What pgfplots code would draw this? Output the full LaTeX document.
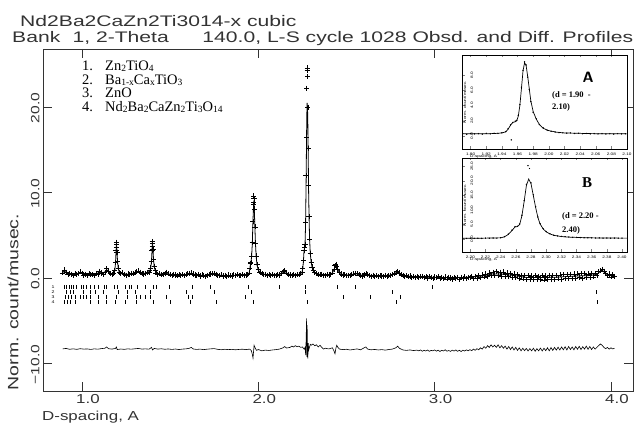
\documentclass[border=0pt]{standalone}
\usepackage{fontspec}
\setmainfont{Liberation Serif}
\newfontfamily\gsas[FakeStretch=1.3]{Liberation Sans}
\newfontfamily\gsasw[FakeStretch=1.38]{Liberation Sans}
\usepackage{pgfplots}
\pgfplotsset{compat=1.18}
\definecolor{ink}{gray}{0.2}
\newcommand\sub[1]{\raisebox{-0.08em}{\fontsize{9.5}{9.5}\selectfont #1}}

\begin{document}
\begin{tikzpicture}
\useasboundingbox (0pt,0pt) rectangle (634pt,428pt);

% header lines
\node[anchor=base west, inner sep=0, text=ink, font=\gsasw\fontsize{15.3}{15}\selectfont] at (20pt,401pt) {Nd2Ba2CaZn2Ti3014-x cubic};
\node[anchor=base west, inner sep=0, text=ink, font=\gsasw\fontsize{15.3}{15}\selectfont] at (12pt,385pt)
  {Bank\hspace{0.8em}1, 2-Theta\hspace{2.2em}140.0, L-S cycle 1028 Obsd. and Diff. Profiles};

\begin{axis}[name=main, at={(43pt,37pt)}, anchor=south west, scale only axis,
  width=590pt, height=342pt,
  xmin=0.779, xmax=4.125, ymin=-13.2, ymax=26.8,
  axis line style={ink, line width=0.7pt},
  xtick={1,2,3,4}, xticklabels={1.0,2.0,3.0,4.0},
  ytick={-10,0,10,20}, yticklabels={−10.0,0.0,10.0,20.0},
  tick align=inside, major tick length=9pt, tick style={ink, line width=0.6pt},
  xtick pos=both, ytick pos=both,
  xticklabel style={font=\gsas\fontsize{13}{13}\selectfont, text=ink, anchor=north, xshift=6pt},
  yticklabel style={font=\gsas\fontsize{12}{12}\selectfont, text=ink, rotate=90, anchor=south, xshift=-1pt}]

% observed profile
\addplot[only marks, mark=+, mark size=2.6pt, mark options={line width=0.6pt}, black] coordinates {
(0.89,0.62)(0.90,0.95)(0.91,0.68)(0.92,0.40)(0.93,0.56)(0.94,0.45)(0.95,0.32)(0.96,0.58)(0.97,0.41)(0.98,0.52)
(0.99,0.74)(1.00,0.55)(1.01,0.36)(1.02,0.47)(1.03,0.30)(1.04,0.52)(1.05,0.38)(1.06,0.41)(1.07,0.28)(1.08,0.55)
(1.09,0.46)(1.10,0.82)(1.11,0.60)(1.12,0.42)(1.13,0.66)(1.14,1.10)(1.15,0.78)(1.16,0.52)(1.17,0.43)(1.18,0.55)
(1.186,0.9)(1.190,1.8)(1.193,3.2)(1.195,4.2)(1.196,3.6)(1.197,3.9)(1.199,3.0)(1.202,2.0)(1.206,1.2)(1.212,0.7)
(1.22,0.52)(1.23,0.62)(1.24,0.40)(1.25,0.35)(1.26,0.49)(1.27,0.44)(1.28,0.58)(1.29,0.50)(1.30,0.62)(1.31,0.74)
(1.32,0.85)(1.33,0.70)(1.34,0.55)(1.35,0.48)(1.36,0.58)(1.37,0.62)(1.38,0.70)
(1.385,0.9)(1.390,1.2)(1.394,2.0)(1.397,3.3)(1.399,4.3)(1.400,3.7)(1.401,4.1)(1.403,3.4)(1.406,2.2)(1.410,1.4)(1.416,0.9)
(1.42,0.62)(1.43,0.45)(1.44,0.50)(1.45,0.38)(1.46,0.44)(1.47,0.55)(1.48,0.68)(1.49,0.50)(1.50,0.41)(1.51,0.30)
(1.52,0.44)(1.53,0.36)(1.54,0.27)(1.55,0.41)(1.56,0.33)(1.57,0.39)(1.58,0.28)(1.59,0.45)(1.60,0.50)(1.61,0.58)
(1.62,0.62)(1.63,0.48)(1.64,0.36)(1.65,0.30)(1.66,0.42)(1.67,0.25)(1.68,0.38)(1.69,0.31)(1.70,0.22)(1.71,0.35)
(1.72,0.40)(1.73,0.48)(1.74,0.55)(1.75,0.58)(1.76,0.45)(1.77,0.34)(1.78,0.28)(1.79,0.39)(1.80,0.26)(1.81,0.33)
(1.82,0.21)(1.83,0.36)(1.84,0.29)(1.85,0.24)(1.86,0.38)(1.87,0.31)(1.88,0.40)(1.89,0.28)(1.90,0.35)(1.91,0.42)
(1.92,0.30)(1.93,0.37)(1.94,0.45)
(1.948,0.62)(1.952,1.2)(1.955,1.7)(1.958,1.8)(1.962,2.6)(1.966,4.2)(1.969,6.6)(1.972,8.6)(1.974,9.6)(1.975,8.9)
(1.976,9.3)(1.978,8.1)(1.981,6.0)(1.984,4.1)(1.988,2.6)(1.993,1.6)(2.000,1.0)
(2.01,0.68)(2.02,0.52)(2.03,0.40)(2.04,0.46)(2.05,0.33)(2.06,0.38)(2.07,0.28)(2.08,0.42)(2.09,0.35)(2.10,0.30)
(2.11,0.44)(2.12,0.37)(2.13,0.52)(2.14,0.75)(2.15,0.88)(2.16,0.62)(2.17,0.44)(2.18,0.36)(2.19,0.30)(2.20,0.41)
(2.21,0.33)(2.22,0.38)(2.23,0.45)(2.24,0.50)
(2.248,0.7)(2.252,1.1)(2.256,2.1)(2.259,3.3)(2.262,3.6)(2.265,3.9)(2.268,6.5)(2.271,12.0)(2.273,16.5)(2.275,22.2)
(2.277,24.6)(2.278,24.3)(2.279,23.6)(2.281,20.0)(2.283,15.2)(2.285,10.8)(2.288,7.2)(2.291,4.6)(2.295,2.9)(2.300,1.9)
(2.305,1.3)(2.312,0.9)
(2.32,0.65)(2.33,0.52)(2.34,0.44)(2.35,0.38)(2.36,0.47)(2.37,0.35)(2.38,0.30)(2.39,0.42)(2.40,0.36)(2.41,0.45)
(2.42,0.62)(2.43,1.05)(2.435,1.45)(2.44,1.62)(2.445,1.40)(2.45,1.05)(2.46,0.70)(2.47,0.48)(2.48,0.36)(2.49,0.40)
(2.50,0.28)(2.51,0.35)(2.52,0.30)(2.53,0.42)(2.54,0.50)(2.55,0.58)(2.56,0.52)(2.57,0.38)(2.58,0.30)(2.59,0.25)
(2.60,0.36)(2.61,0.55)(2.62,0.45)(2.63,0.30)(2.64,0.22)(2.65,0.34)(2.66,0.20)(2.67,0.28)(2.68,0.16)(2.69,0.31)
(2.70,0.24)(2.71,0.18)(2.72,0.33)(2.73,0.21)(2.74,0.27)(2.75,0.35)(2.76,0.42)(2.77,0.50)(2.78,0.62)(2.79,0.78)
(2.80,0.60)(2.81,0.42)(2.82,0.30)(2.83,0.22)(2.84,0.28)(2.85,0.15)(2.86,0.24)(2.87,0.10)(2.88,0.20)(2.89,0.08)
(2.90,0.18)(2.91,0.05)(2.92,0.15)(2.93,0.22)(2.94,0.04)(2.95,0.16)(2.96,0.02)(2.97,0.20)(2.98,0.10)(2.99,-0.02)
(3.00,0.14)(3.01,0.05)(3.02,0.18)(3.03,-0.05)(3.04,0.12)(3.05,0.00)(3.06,0.15)(3.07,-0.08)(3.08,0.10)(3.09,0.02)
(3.10,-0.10)(3.11,0.12)(3.12,-0.03)(3.13,0.08)(3.14,-0.12)(3.15,0.10)(3.16,0.00)(3.17,0.15)(3.18,-0.06)(3.19,0.12)
(3.20,0.05)(3.21,0.22)(3.22,-0.05)(3.23,0.18)(3.24,0.02)(3.25,0.30)(3.26,0.10)(3.27,0.38)(3.28,0.15)(3.29,0.48)
(3.30,0.20)(3.31,0.62)(3.32,0.28)(3.33,0.70)(3.34,0.35)(3.35,0.75)(3.36,0.30)(3.37,0.68)(3.38,0.25)(3.39,0.72)
(3.40,0.22)(3.41,0.60)(3.42,0.18)(3.43,0.55)(3.44,0.10)(3.45,0.48)(3.46,0.05)(3.47,0.40)(3.48,-0.05)(3.49,0.35)
(3.50,-0.08)(3.51,0.30)(3.52,-0.12)(3.53,0.28)(3.54,-0.15)(3.55,0.25)(3.56,-0.10)(3.57,0.30)(3.58,-0.18)(3.59,0.22)
(3.60,-0.12)(3.61,0.28)(3.62,-0.20)(3.63,0.25)(3.64,-0.15)(3.65,0.32)(3.66,-0.10)(3.67,0.30)(3.68,-0.18)(3.69,0.35)
(3.70,-0.08)(3.71,0.38)(3.72,-0.12)(3.73,0.40)(3.74,-0.05)(3.75,0.42)(3.76,0.00)(3.77,0.45)(3.78,-0.05)(3.79,0.48)
(3.80,0.02)(3.81,0.50)(3.82,0.05)(3.83,0.52)(3.84,0.00)(3.85,0.55)(3.86,0.08)(3.87,0.50)(3.88,0.10)(3.89,0.58)
(3.90,0.15)(3.91,0.55)(3.92,0.30)(3.93,0.75)(3.94,0.85)(3.95,1.05)(3.96,0.80)(3.97,0.55)(3.98,0.30)(3.99,0.48)
(4.00,0.15)(4.01,0.40)(4.02,0.20)
};

% calculated profile
\addplot[black, line width=0.8pt] coordinates {
(0.89,0.6)(0.90,0.9)(0.91,0.6)(0.93,0.45)(0.97,0.45)(0.99,0.65)(1.01,0.45)(1.05,0.4)(1.08,0.45)(1.10,0.75)
(1.12,0.5)(1.14,1.0)(1.16,0.55)(1.18,0.5)(1.186,0.85)(1.190,1.7)(1.193,3.0)(1.195,3.9)(1.197,3.7)(1.199,2.9)
(1.202,1.9)(1.206,1.1)(1.212,0.65)(1.22,0.5)(1.23,0.55)(1.26,0.45)(1.30,0.6)(1.32,0.8)(1.34,0.55)(1.37,0.6)
(1.385,0.85)(1.390,1.2)(1.394,1.9)(1.397,3.1)(1.399,4.0)(1.401,3.9)(1.403,3.2)(1.406,2.1)(1.410,1.3)(1.416,0.85)
(1.43,0.5)(1.46,0.45)(1.48,0.62)(1.50,0.42)(1.55,0.35)(1.60,0.45)(1.62,0.58)(1.65,0.35)(1.70,0.3)(1.75,0.55)
(1.78,0.33)(1.85,0.3)(1.90,0.33)(1.94,0.42)(1.948,0.6)(1.952,1.1)(1.955,1.6)(1.958,1.8)(1.962,2.5)(1.966,4.0)
(1.969,6.2)(1.972,8.0)(1.974,8.8)(1.976,8.6)(1.978,7.6)(1.981,5.8)(1.984,4.0)(1.988,2.5)(1.993,1.5)(2.0,0.95)
(2.01,0.65)(2.03,0.45)(2.1,0.35)(2.13,0.5)(2.15,0.8)(2.17,0.45)(2.22,0.38)(2.24,0.5)(2.248,0.7)(2.252,1.1)
(2.256,2.0)(2.259,3.1)(2.262,3.5)(2.265,3.9)(2.268,6.2)(2.271,11.0)(2.273,15.0)(2.275,19.0)(2.277,20.5)(2.279,20.0)
(2.281,18.0)(2.283,14.5)(2.285,10.5)(2.288,7.0)(2.291,4.5)(2.295,2.8)(2.300,1.85)(2.305,1.25)(2.312,0.85)(2.32,0.62)
(2.35,0.42)(2.40,0.4)(2.42,0.6)(2.43,1.0)(2.435,1.4)(2.44,1.55)(2.445,1.38)(2.45,1.0)(2.46,0.68)(2.48,0.4)
(2.52,0.33)(2.55,0.55)(2.58,0.32)(2.61,0.5)(2.64,0.28)(2.70,0.24)(2.75,0.35)(2.79,0.72)(2.82,0.32)(2.88,0.15)
(3.0,0.08)(3.1,0.05)(3.2,0.1)(3.27,0.25)(3.33,0.5)(3.38,0.48)(3.45,0.3)(3.52,0.08)(3.6,0.06)(3.7,0.12)
(3.8,0.25)(3.88,0.3)(3.92,0.45)(3.95,0.95)(3.97,0.5)(4.0,0.28)(4.02,0.3)
};

% difference curve
\addplot[black, line width=0.6pt] coordinates {
(0.89,-8.28)(0.91,-8.22)(0.93,-8.32)(0.95,-8.27)(0.97,-8.33)(0.99,-8.25)(1.01,-8.30)(1.03,-8.28)(1.05,-8.34)(1.07,-8.27)
(1.09,-8.31)(1.11,-8.24)(1.13,-8.20)(1.14,-8.05)(1.15,-8.25)(1.17,-8.30)(1.19,-8.22)(1.195,-8.05)(1.20,-8.35)(1.22,-8.29)
(1.24,-8.33)(1.26,-8.27)(1.28,-8.31)(1.30,-8.26)(1.32,-8.22)(1.34,-8.30)(1.36,-8.27)(1.38,-8.31)(1.395,-8.10)(1.40,-8.40)
(1.41,-8.22)(1.43,-8.30)(1.45,-8.26)(1.47,-8.32)(1.49,-8.28)(1.51,-8.34)(1.53,-8.29)(1.55,-8.35)(1.57,-8.30)(1.59,-8.27)
(1.61,-8.20)(1.62,-8.10)(1.63,-8.28)(1.65,-8.34)(1.67,-8.30)(1.69,-8.36)(1.71,-8.31)(1.73,-8.27)(1.75,-8.24)(1.77,-8.33)
(1.79,-8.37)(1.81,-8.32)(1.83,-8.36)(1.85,-8.33)(1.87,-8.38)(1.89,-8.34)(1.91,-8.31)(1.93,-8.36)(1.95,-8.30)(1.96,-8.45)
(1.966,-8.9)(1.970,-9.35)(1.973,-8.6)(1.976,-7.85)(1.979,-8.0)(1.983,-8.2)(1.99,-8.45)(2.00,-8.35)(2.02,-8.50)(2.04,-8.42)
(2.06,-8.46)(2.08,-8.40)(2.10,-8.36)(2.12,-8.30)(2.14,-8.15)(2.15,-8.00)(2.16,-8.18)(2.18,-8.10)(2.19,-7.95)(2.20,-8.05)
(2.21,-7.90)(2.22,-8.02)(2.23,-7.95)(2.24,-8.10)(2.25,-8.05)(2.26,-8.3)(2.265,-8.1)(2.269,-9.0)(2.272,-6.5)(2.274,-4.7)
(2.2755,-9.2)(2.277,-5.5)(2.279,-8.8)(2.281,-9.4)(2.283,-7.6)(2.286,-8.4)(2.29,-8.1)(2.295,-7.75)(2.30,-7.85)(2.31,-7.70)
(2.32,-7.90)(2.33,-7.80)(2.34,-8.05)(2.35,-7.85)(2.36,-8.10)(2.37,-8.30)(2.38,-8.20)(2.40,-8.28)(2.42,-8.15)(2.43,-8.55)
(2.435,-8.85)(2.44,-8.2)(2.445,-7.85)(2.45,-8.05)(2.46,-8.30)(2.48,-8.36)(2.50,-8.32)(2.52,-8.40)(2.54,-8.34)(2.56,-8.28)
(2.58,-8.38)(2.60,-8.15)(2.61,-8.05)(2.62,-8.30)(2.64,-8.38)(2.66,-8.34)(2.68,-8.40)(2.70,-8.36)(2.72,-8.42)(2.74,-8.35)
(2.76,-8.30)(2.78,-8.15)(2.79,-7.95)(2.80,-8.20)(2.82,-8.40)(2.84,-8.45)(2.86,-8.40)(2.88,-8.47)(2.90,-8.42)
(2.91,-8.50)(2.92,-8.40)(2.93,-8.55)(2.94,-8.44)(2.95,-8.52)(2.96,-8.41)(2.97,-8.56)(2.98,-8.45)(2.99,-8.50)(3.00,-8.40)
(3.01,-8.54)(3.02,-8.43)(3.03,-8.58)(3.04,-8.44)(3.05,-8.52)(3.06,-8.38)(3.07,-8.55)(3.08,-8.46)(3.09,-8.57)(3.10,-8.42)
(3.11,-8.53)(3.12,-8.40)(3.13,-8.56)(3.14,-8.44)(3.15,-8.58)(3.16,-8.43)(3.17,-8.52)(3.18,-8.39)(3.19,-8.50)(3.20,-8.36)
(3.21,-8.48)(3.22,-8.30)(3.23,-8.44)(3.24,-8.25)(3.25,-8.38)(3.26,-8.15)(3.27,-8.30)(3.28,-8.00)(3.29,-8.20)(3.30,-7.90)
(3.31,-8.10)(3.32,-7.80)(3.33,-8.05)(3.34,-7.85)(3.35,-8.10)(3.36,-7.80)(3.37,-8.15)(3.38,-7.90)(3.39,-8.20)(3.40,-7.95)
(3.41,-8.30)(3.42,-8.00)(3.43,-8.35)(3.44,-8.05)(3.45,-8.40)(3.46,-8.10)(3.47,-8.45)(3.48,-8.15)(3.49,-8.50)(3.50,-8.20)
(3.51,-8.48)(3.52,-8.22)(3.53,-8.52)(3.54,-8.25)(3.55,-8.50)(3.56,-8.20)(3.57,-8.55)(3.58,-8.25)(3.59,-8.50)(3.60,-8.18)
(3.61,-8.52)(3.62,-8.20)(3.63,-8.48)(3.64,-8.15)(3.65,-8.50)(3.66,-8.12)(3.67,-8.45)(3.68,-8.10)(3.69,-8.42)(3.70,-8.08)
(3.71,-8.40)(3.72,-8.05)(3.73,-8.38)(3.74,-8.02)(3.75,-8.40)(3.76,-8.00)(3.77,-8.35)(3.78,-8.05)(3.79,-8.38)(3.80,-8.00)
(3.81,-8.32)(3.82,-7.98)(3.83,-8.35)(3.84,-8.02)(3.85,-8.30)(3.86,-7.95)(3.87,-8.32)(3.88,-8.00)(3.89,-8.35)(3.90,-8.05)
(3.91,-8.30)(3.92,-8.10)(3.93,-7.90)(3.94,-7.70)(3.95,-7.85)(3.96,-8.10)(3.97,-8.25)(3.98,-8.10)(3.99,-8.30)(4.00,-8.15)
(4.01,-8.28)(4.02,-8.20)
};

% reflection markers, phases 1-4
\addplot[only marks, mark=|, mark size=2pt, mark options={line width=0.5pt}, black] coordinates {
(0.898,-1.05)(0.913,-1.05)(0.926,-1.05)(0.941,-1.05)(0.950,-1.05)(0.970,-1.05)(0.994,-1.05)(1.007,-1.05)(1.027,-1.05)(1.045,-1.05)
(1.070,-1.05)(1.093,-1.05)(1.127,-1.05)(1.140,-1.05)(1.182,-1.05)(1.200,-1.05)(1.244,-1.05)(1.268,-1.05)(1.282,-1.05)(1.313,-1.05)
(1.357,-1.05)(1.404,-1.05)(1.420,-1.05)(1.495,-1.05)(1.628,-1.05)(1.730,-1.05)(1.943,-1.05)(2.119,-1.05)(2.265,-1.05)(2.445,-1.05)
(2.549,-1.05)(2.984,-1.05)
};
\addplot[only marks, mark=|, mark size=2pt, mark options={line width=0.5pt}, black] coordinates {
(0.913,-1.64)(0.932,-1.64)(0.951,-1.64)(1.007,-1.64)(1.045,-1.64)(1.074,-1.64)(1.121,-1.64)(1.206,-1.64)(1.254,-1.64)(1.301,-1.64)
(1.386,-1.64)(1.594,-1.64)(1.749,-1.64)(1.958,-1.64)(2.265,-1.64)(2.762,-1.64)(3.915,-1.64)
};
\addplot[only marks, mark=|, mark size=2pt, mark options={line width=0.5pt}, black] coordinates {
(0.904,-2.22)(0.922,-2.22)(0.941,-2.22)(0.960,-2.22)(0.989,-2.22)(1.007,-2.22)(1.027,-2.22)(1.045,-2.22)(1.093,-2.22)(1.140,-2.22)
(1.197,-2.22)(1.254,-2.22)(1.310,-2.22)(1.329,-2.22)(1.357,-2.22)(1.386,-2.22)(1.480,-2.22)(1.603,-2.22)(1.628,-2.22)(1.925,-2.22)
(2.479,-2.22)(2.634,-2.22)(2.804,-2.22)
};
\addplot[only marks, mark=|, mark size=2pt, mark options={line width=0.5pt}, black] coordinates {
(0.898,-2.81)(0.917,-2.81)(0.936,-2.81)(0.960,-2.81)(1.045,-2.81)(1.093,-2.81)(1.140,-2.81)(1.187,-2.81)(1.244,-2.81)(1.310,-2.81)
(1.404,-2.81)(1.499,-2.81)(1.613,-2.81)(1.764,-2.81)(1.972,-2.81)(2.278,-2.81)(2.785,-2.81)(3.925,-2.81)
};
\end{axis}

% axis titles
\node[rotate=90, inner sep=0, text=ink, font=\gsas\fontsize{15}{15}\selectfont] at (13pt,126pt) {Norm. count/musec.};
\node[anchor=base west, inner sep=0, text=ink, font=\gsas\fontsize{13}{13}\selectfont] at (42pt,8pt) {D-spacing, A};

% marker row labels
\foreach \r/\yy in {1/141,2/136,3/131,4/126}
  \node[font=\gsas\fontsize{4}{4}\selectfont, inner sep=0] at (53pt,\yy pt) {\r};

% phase list
\node[anchor=base west, align=left, inner sep=0, font=\fontsize{14.5}{13.6}\selectfont] at (82pt,316.5pt)
  {\makebox[23pt][l]{1.}Zn\sub{2}TiO\sub{4}\\
   \makebox[23pt][l]{2.}Ba\sub{1-x}Ca\sub{x}TiO\sub{3}\\
   \makebox[23pt][l]{3.}ZnO\\
   \makebox[23pt][l]{4.}Nd\sub{2}Ba\sub{2}CaZn\sub{2}Ti\sub{3}O\sub{14}};

% inset A
\begin{axis}[name=insA, at={(462pt,279pt)}, anchor=south west, scale only axis,
  width=165pt, height=94pt, axis background/.style={fill=white},
  xmin=1.889, xmax=2.10, ymin=-1.7, ymax=10.6,
  axis line style={black, line width=0.6pt},
  xtick={1.90,1.92,...,2.101}, ytick={0,2,4,6,8},
  xticklabel style={font=\gsas\fontsize{3.6}{4}\selectfont, /pgf/number format/.cd, fixed, fixed zerofill, precision=2},
  yticklabel style={font=\gsas\fontsize{3.6}{4}\selectfont, xshift=5pt, rotate=90, anchor=north, /pgf/number format/.cd, fixed, fixed zerofill, precision=1},
  /pgf/number format/assume math mode=true,
  tick align=inside, major tick length=2.5pt, tick style={line width=0.4pt},
  xtick pos=both, ytick pos=left]
\addplot[only marks, mark=*, mark size=0.45pt, black] coordinates {
(1.890,0.30)(1.895,0.22)(1.900,0.33)(1.905,0.27)(1.910,0.31)(1.915,0.24)(1.920,0.34)(1.925,0.28)(1.930,0.36)(1.935,0.33)
(1.940,0.42)(1.945,0.58)(1.948,0.95)(1.951,1.45)(1.952,-0.5)(1.954,1.75)(1.957,1.95)(1.959,2.05)(1.961,2.7)(1.963,4.1)
(1.965,6.4)(1.967,8.6)(1.969,9.7)(1.971,9.3)(1.973,7.7)(1.975,6.1)(1.977,4.5)(1.980,3.1)(1.984,2.25)(1.988,1.5)
(1.993,1.05)(1.998,0.75)(2.003,0.62)(2.008,0.52)(2.013,0.45)(2.018,0.41)(2.023,0.37)(2.028,0.40)(2.033,0.33)(2.038,0.36)
(2.043,0.30)(2.048,0.34)(2.053,0.28)(2.058,0.32)(2.063,0.27)(2.068,0.31)(2.073,0.26)(2.078,0.30)(2.083,0.25)(2.088,0.31)
(2.093,0.27)(2.098,0.29)
};
\addplot[black, line width=0.7pt] coordinates {
(1.889,0.28)(1.90,0.29)(1.92,0.30)(1.93,0.32)(1.94,0.40)(1.945,0.55)(1.948,0.9)(1.951,1.4)(1.954,1.8)(1.957,1.85)
(1.959,2.0)(1.961,2.6)(1.963,4.0)(1.965,6.2)(1.967,8.5)(1.969,9.6)(1.971,9.2)(1.973,7.8)(1.975,6.2)(1.977,4.6)
(1.980,3.2)(1.984,2.2)(1.988,1.5)(1.993,1.0)(2.00,0.7)(2.01,0.5)(2.02,0.4)(2.04,0.35)(2.06,0.3)(2.08,0.3)(2.10,0.28)
};
\end{axis}
\node[font=\gsas\fontsize{3.6}{4}\selectfont, anchor=north west, inner sep=0] at ([xshift=8pt, yshift=-6pt]insA.south west) {D-spacing, A};
\node[font=\gsas\fontsize{3.6}{4}\selectfont, rotate=90, anchor=north, inner sep=0] at ([xshift=1.2pt]insA.west) {Norm. count/musec.};
\node[font=\sffamily\bfseries\fontsize{15}{15}\selectfont, inner sep=0] at (588pt,351pt) {A};
\node[anchor=base west, align=left, inner sep=0, font=\bfseries\fontsize{8.5}{12}\selectfont] at (552pt,318pt) {(d = 1.90\ \ -\\2.10)};

% inset B
\begin{axis}[name=insB, at={(462pt,176pt)}, anchor=south west, scale only axis,
  width=165pt, height=94pt, axis background/.style={fill=white},
  xmin=2.189, xmax=2.4066, ymin=-4.4, ymax=27.8,
  axis line style={black, line width=0.6pt},
  xtick={2.20,2.22,...,2.401}, ytick={0,5,10,15,20,25},
  xticklabel style={font=\gsas\fontsize{3.6}{4}\selectfont, /pgf/number format/.cd, fixed, fixed zerofill, precision=2},
  yticklabel style={font=\gsas\fontsize{3.6}{4}\selectfont, xshift=5pt, rotate=90, anchor=north, /pgf/number format/.cd, fixed, fixed zerofill, precision=1},
  /pgf/number format/assume math mode=true,
  tick align=inside, major tick length=2.5pt, tick style={line width=0.4pt},
  xtick pos=both, ytick pos=left]
\addplot[only marks, mark=*, mark size=0.45pt, black] coordinates {
(2.190,0.30)(2.195,0.24)(2.200,0.33)(2.205,0.27)(2.210,0.32)(2.215,0.26)(2.220,0.35)(2.225,0.31)(2.230,0.38)(2.235,0.36)
(2.240,0.48)(2.245,0.85)(2.250,1.7)(2.255,3.1)(2.259,4.3)(2.262,4.4)(2.265,5.2)(2.268,8.2)(2.271,13.2)(2.274,18.8)
(2.276,25.2)(2.278,24.2)(2.280,19.3)(2.283,15.2)(2.286,11.1)(2.289,7.6)(2.292,5.3)(2.296,3.6)(2.300,2.6)(2.305,1.85)
(2.310,1.35)(2.315,1.1)(2.320,0.95)(2.325,0.82)(2.330,0.72)(2.335,0.64)(2.340,0.58)(2.345,0.52)(2.350,0.50)(2.355,0.45)
(2.360,0.44)(2.365,0.40)(2.370,0.41)(2.375,0.37)(2.380,0.38)(2.385,0.34)(2.390,0.36)(2.395,0.33)(2.400,0.35)
};
\addplot[black, line width=0.7pt] coordinates {
(2.189,0.3)(2.20,0.3)(2.22,0.35)(2.24,0.45)(2.245,0.8)(2.25,1.6)(2.255,3.0)(2.259,4.2)(2.262,4.3)(2.265,5.0)
(2.268,8.0)(2.271,13.0)(2.274,18.5)(2.277,20.6)(2.280,19.0)(2.283,15.0)(2.286,11.0)(2.289,7.5)(2.292,5.2)(2.296,3.5)
(2.300,2.5)(2.305,1.8)(2.31,1.3)(2.32,0.9)(2.33,0.7)(2.35,0.5)(2.37,0.4)(2.40,0.35)(2.4066,0.35)
};
\end{axis}
\node[font=\gsas\fontsize{3.6}{4}\selectfont, anchor=north west, inner sep=0] at ([xshift=8pt, yshift=-6pt]insB.south west) {D-spacing, A};
\node[font=\gsas\fontsize{3.6}{4}\selectfont, rotate=90, anchor=north, inner sep=0] at ([xshift=1.2pt]insB.west) {Norm. count/musec.};
\node[font=\bfseries\fontsize{15}{15}\selectfont, inner sep=0] at (587pt,245pt) {B};
\node[anchor=base west, align=left, inner sep=0, font=\bfseries\fontsize{8.5}{14}\selectfont] at (562pt,195pt) {(d = 2.20 -\\2.40)};
\end{tikzpicture}
\end{document}
